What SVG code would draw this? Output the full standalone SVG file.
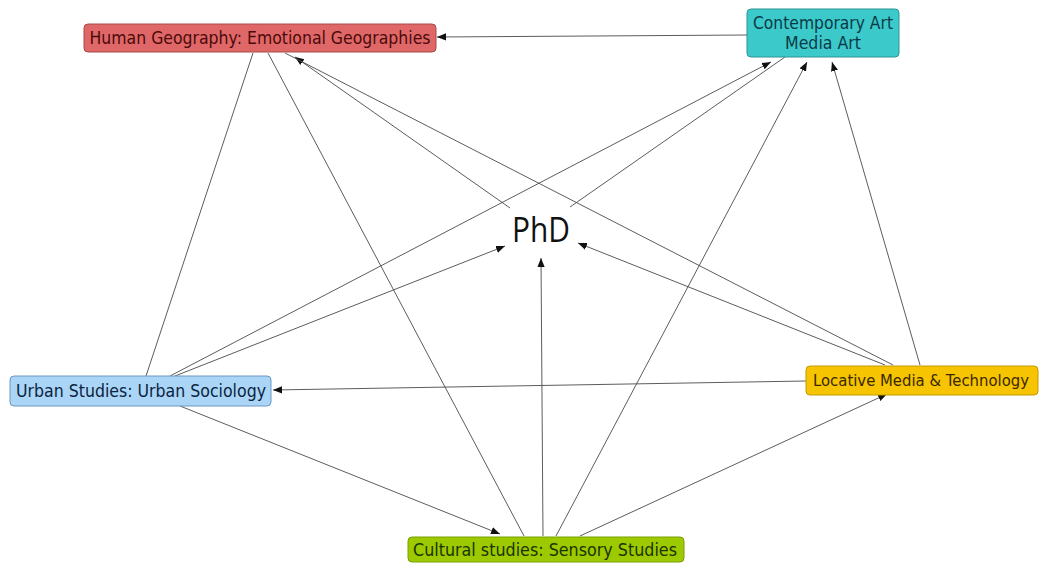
<svg xmlns="http://www.w3.org/2000/svg" width="1039" height="563" viewBox="0 0 1039 563">
<style>
.e{stroke:#4a4a4a;stroke-width:0.9;fill:none}
.a{marker-end:url(#ah)}
.lbl{font-family:"DejaVu Sans","Liberation Sans",sans-serif;font-size:17px;text-anchor:middle}
.box{stroke-width:1}
</style>
<defs>
<marker id="ah" viewBox="0 0 10 10" refX="10" refY="5" markerWidth="9" markerHeight="9" markerUnits="userSpaceOnUse" orient="auto">
<path d="M0,1 L10,5 L0,9 Z" fill="#111"/>
</marker>
</defs>
<rect width="1039" height="563" fill="#ffffff"/>
<g id="connectors">
<line class="e a" x1="747" y1="35" x2="437" y2="37"/>
<line class="e" x1="253" y1="53" x2="146" y2="376"/>
<line class="e" x1="268" y1="53" x2="524" y2="536"/>
<line class="e a" x1="510" y1="208" x2="295" y2="57"/>
<line class="e" x1="893" y1="365" x2="285" y2="53"/>
<line class="e a" x1="170" y1="376" x2="771" y2="62"/>
<line class="e a" x1="175" y1="376" x2="505" y2="246"/>
<line class="e" x1="570" y1="207" x2="785" y2="57"/>
<line class="e a" x1="556" y1="536" x2="807" y2="62"/>
<line class="e a" x1="920" y1="365" x2="832" y2="62"/>
<line class="e a" x1="885" y1="365" x2="578" y2="243"/>
<line class="e a" x1="806" y1="381" x2="273" y2="390"/>
<line class="e a" x1="580" y1="536" x2="887" y2="394"/>
<line class="e a" x1="180" y1="406" x2="500" y2="534"/>
<line class="e a" x1="543" y1="536" x2="541" y2="258"/>
</g>
<g id="phd">
<text x="541" y="242" font-family="'Open Sans','Noto Sans',sans-serif" font-size="34" text-anchor="middle" textLength="58" lengthAdjust="spacingAndGlyphs" fill="#111">PhD</text>
</g>
<g id="human-geography">
<rect class="box" x="84" y="24" width="352" height="28" rx="4" fill="#e06767" stroke="#a84a4a"/>
<text class="lbl" x="260" y="44" textLength="341" lengthAdjust="spacingAndGlyphs" fill="#4a0a0a">Human Geography: Emotional Geographies</text>
</g>
<g id="contemporary-art">
<rect class="box" x="747" y="9" width="152" height="48" rx="4" fill="#3cc9c9" stroke="#2a9595"/>
<text class="lbl" x="823" y="29" textLength="140" lengthAdjust="spacingAndGlyphs" fill="#0a3a48">Contemporary Art</text>
<text class="lbl" x="823" y="49" textLength="76" lengthAdjust="spacingAndGlyphs" fill="#0a3a48">Media Art</text>
</g>
<g id="urban-studies">
<rect class="box" x="10" y="376" width="261" height="30" rx="4" fill="#abd5f6" stroke="#6a98c4"/>
<text class="lbl" x="141" y="397" textLength="250" lengthAdjust="spacingAndGlyphs" fill="#0a2440">Urban Studies: Urban Sociology</text>
</g>
<g id="locative-media">
<rect class="box" x="806" y="366" width="232" height="29" rx="4" fill="#f6c400" stroke="#c49a00"/>
<text class="lbl" x="921" y="386" font-size="15.5" textLength="216" lengthAdjust="spacingAndGlyphs" fill="#3a2800" style="font-size:15.5px">Locative Media &amp; Technology</text>
</g>
<g id="cultural-studies">
<rect class="box" x="408" y="537" width="276" height="25" rx="4" fill="#9dc900" stroke="#78a000"/>
<text class="lbl" x="545" y="556" textLength="264" lengthAdjust="spacingAndGlyphs" fill="#1a3400">Cultural studies: Sensory Studies</text>
</g>
</svg>
